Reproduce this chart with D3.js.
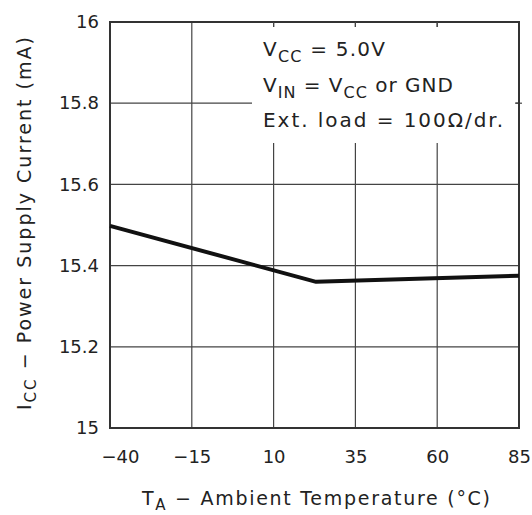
<!DOCTYPE html>
<html><head><meta charset="utf-8">
<script src="https://cdn.jsdelivr.net/npm/d3@7"></script>
<style>body{margin:0;background:#fff}svg{display:block}text{font-family:"DejaVu Sans",sans-serif;fill:#222}</style>
</head><body>
<script>
const temps = [-40, 23, 85];
const icc = [15.498, 15.36, 15.375];
const xTicks = [-40, -15, 10, 35, 60, 85];
const yTicks = [15, 15.2, 15.4, 15.6, 15.8, 16];
const yTickLabels = ["15", "15.2", "15.4", "15.6", "15.8", "16"];

const W = 532, H = 515;
const svg = d3.select("body").append("svg").attr("width", W).attr("height", H);
const x = d3.scaleLinear().domain([-40, 85]).range([110, 519]);
const y = d3.scaleLinear().domain([15, 16]).range([428, 22]);

// mask for annotation area
const defs = svg.append("defs");
const mask = defs.append("mask").attr("id", "m");
mask.append("rect").attr("x", 0).attr("y", 0).attr("width", W).attr("height", H).attr("fill", "#fff");
mask.append("rect").attr("x", 252).attr("y", 27).attr("width", 263).attr("height", 116).attr("fill", "#000");

const grid = svg.append("g").attr("mask", "url(#m)").attr("stroke", "#444").attr("stroke-width", 1.2);
grid.selectAll("line.v").data(xTicks.slice(1, -1)).join("line")
  .attr("x1", d => x(d)).attr("x2", d => x(d)).attr("y1", y(16)).attr("y2", y(15));
grid.selectAll("line.h").data(yTicks.slice(1, -1)).join("line")
  .attr("y1", d => y(d)).attr("y2", d => y(d)).attr("x1", x(-40)).attr("x2", x(85));

// small tick stubs at the annotation area edges
svg.append("line").attr("x1", x(85) - 3).attr("x2", x(85) + 3).attr("y1", y(15.8)).attr("y2", y(15.8))
  .attr("stroke", "#444").attr("stroke-width", 1.2);

// border
svg.append("rect").attr("x", x(-40)).attr("y", y(16)).attr("width", x(85) - x(-40)).attr("height", y(15) - y(16))
  .attr("fill", "none").attr("stroke", "#333").attr("stroke-width", 2);

// axes (labels only)
const xa = svg.append("g").attr("transform", `translate(0,${y(15)})`)
  .call(d3.axisBottom(x).tickValues(xTicks).tickSize(0).tickPadding(22).tickFormat(d => d < 0 ? "\u2212" + Math.abs(d) : d));
xa.select(".domain").remove();
xa.selectAll("text").attr("font-size", 18).attr("font-family", "DejaVu Sans").attr("fill", "#222")
  .attr("dx", d => d === -40 ? 10 : 0);
const ya = svg.append("g").attr("transform", `translate(${x(-40)},0)`)
  .call(d3.axisLeft(y).tickValues(yTicks).tickSize(0).tickPadding(11).tickFormat((d, i) => yTickLabels[i]));
ya.select(".domain").remove();
ya.selectAll("text").attr("font-size", 18).attr("font-family", "DejaVu Sans").attr("fill", "#222");

// data line
svg.append("path").datum(temps.map((t, i) => [t, icc[i]]))
  .attr("d", d3.line().x(d => x(d[0])).y(d => y(d[1])))
  .attr("fill", "none").attr("stroke", "#111").attr("stroke-width", 4).attr("stroke-linejoin", "round");

// annotation
function addLine(parts, bx, by, len) {
  const t = svg.append("text").attr("x", bx).attr("y", by).attr("font-size", 20);
  parts.forEach(p => {
    const ts = t.append("tspan").text(p.t);
    if (p.sub) ts.attr("font-size", 16).attr("dy", 6);
    if (p.up) ts.attr("dy", -6);
  });
  if (len) t.attr("textLength", len).attr("lengthAdjust", "spacing");
  return t;
}
addLine([{t: "V"}, {t: "CC", sub: 1}, {t: " = 5.0V", up: 1}], 263, 56, 122);
addLine([{t: "V"}, {t: "IN", sub: 1}, {t: " = V", up: 1}, {t: "CC", sub: 1}, {t: " or GND", up: 1}], 263, 92, 190);
addLine([{t: "Ext. load = 100\u03A9/dr."}], 263, 127, 240);

// x title
const xt = svg.append("text").attr("x", 142).attr("y", 505).attr("font-size", 19);
xt.append("tspan").text("T");
xt.append("tspan").text("A").attr("font-size", 15).attr("dy", 5);
xt.append("tspan").text(" \u2212 Ambient Temperature (\u00B0C)").attr("dy", -5);
xt.attr("textLength", 348).attr("lengthAdjust", "spacing");

// y title
const yt = svg.append("text").attr("transform", "translate(31,410) rotate(-90)").attr("font-size", 19);
yt.append("tspan").text("I");
yt.append("tspan").text("CC").attr("font-size", 15).attr("dy", 5);
yt.append("tspan").text(" \u2212 Power Supply Current (mA)").attr("dy", -5);
yt.attr("textLength", 373).attr("lengthAdjust", "spacing");

// short stubs of vertical gridlines under the top border
svg.append("g").attr("stroke", "#444").attr("stroke-width", 1.2)
  .selectAll("line").data(xTicks.slice(2, -1)).join("line")
  .attr("x1", d => x(d)).attr("x2", d => x(d)).attr("y1", y(16)).attr("y2", y(16) + 5);
</script>
</body></html>
